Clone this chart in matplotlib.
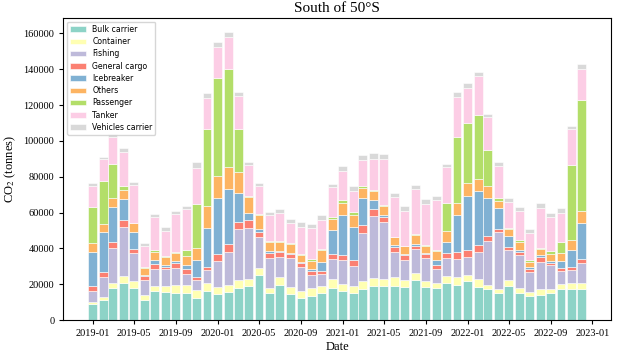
import matplotlib
matplotlib.use('Agg')
import matplotlib.pyplot as plt
import matplotlib.dates as mdates
import numpy as np
import pandas as pd

plt.rcParams['mathtext.fontset'] = 'stix'

# monthly CO2 emissions south of 50°S, by ship type (tonnes)
months = pd.date_range('2019-01-01', periods=48, freq='MS')

bulk_carrier = [8700, 11200, 18000, 20500, 17900, 11000, 16200, 15600, 15300, 14900, 12500, 16200,
                14300, 15600, 18000, 18800, 24900, 14900, 19300, 14500, 12300, 13600, 15300, 17700,
                16000, 15300, 17100, 18800, 18800, 19200, 18600, 22300, 18200, 18000, 20500, 19700,
                21900, 18600, 17100, 14900, 18800, 15300, 13600, 14100, 14900, 17100, 17500, 17100]
container = [1500, 1400, 2600, 4100, 3900, 3000, 3000, 3600, 4000, 4400, 4200, 4300,
             4300, 3700, 4300, 4100, 3900, 3100, 4500, 4100, 3700, 4100, 3700, 5000,
             4300, 3900, 4700, 4500, 4300, 4800, 3700, 4100, 3600, 2600, 3900, 4100,
             3200, 4300, 2400, 2600, 3500, 2600, 2200, 3400, 2200, 3000, 3000, 3400]
fishing = [5800, 11200, 19600, 27500, 15800, 8500, 9100, 9100, 9900, 6400, 5600, 7400,
           14500, 18500, 28500, 28600, 17300, 16400, 11500, 15800, 13600, 7200, 6700, 11500,
           13200, 10900, 26900, 34700, 31400, 14100, 11200, 13200, 13000, 7700, 10000, 10200,
           10200, 14900, 24400, 31600, 16800, 18600, 11000, 15100, 13400, 7400, 7400, 11500]
general_cargo = [3200, 3200, 3300, 3700, 2200, 1900, 2800, 1500, 2400, 2600, 1900, 1900,
                 3700, 4600, 3900, 4100, 3000, 3200, 2800, 2400, 2000, 2600, 1600, 2800,
                 2600, 3400, 4100, 3800, 3000, 2800, 2600, 1700, 1800, 2200, 2800, 3800,
                 3800, 3900, 3000, 1500, 1600, 1300, 1500, 2400, 1500, 1500, 1700, 2200]
icebreaker = [18800, 21900, 19500, 11700, 9100, 900, 2400, 900, 1300, 2600, 9500, 21400,
              31100, 30500, 16500, 3900, 1500, 700, 200, 400, 800, 1000, 5300, 13200,
              22500, 18200, 15500, 5200, 1100, 900, 700, 1100, 600, 3000, 6300, 20800,
              30300, 30100, 21200, 12100, 6400, 1400, 1300, 1100, 1100, 3900, 9500, 19900]
others = [4800, 4700, 5300, 5200, 5000, 3700, 4600, 4300, 4300, 4600, 6500, 12600,
          12500, 12500, 11400, 9300, 8000, 5000, 5000, 5400, 4100, 4600, 6500, 6200,
          6500, 6900, 5500, 5000, 5200, 4300, 4300, 5000, 4100, 4800, 6000, 6900,
          6900, 7100, 6700, 3700, 3700, 4100, 2800, 3300, 3500, 4300, 5700, 6500]
passenger = [20400, 24000, 18900, 2300, 400, 600, 800, 700, 900, 3700, 24500, 42600,
             54500, 54500, 24000, 600, 400, 600, 800, 200, 400, 800, 500, 1300,
             1900, 1500, 1200, 400, 400, 400, 400, 600, 600, 900, 16000, 36800,
             33600, 35500, 20400, 1500, 700, 1300, 900, 900, 1700, 6100, 41700, 62200]
tanker = [11800, 12400, 14900, 18900, 21000, 11500, 18600, 14000, 21000, 22600, 20300, 17800,
          17600, 18200, 18400, 16900, 16000, 14700, 15600, 11300, 15200, 17300, 16400, 16500,
          16000, 12100, 14500, 17400, 25600, 22100, 19300, 24900, 23000, 27800, 19700, 22100,
          19900, 21800, 17900, 18000, 14500, 16200, 15400, 22000, 19500, 16600, 20100, 17100]
vehicles_carrier = [1300, 1300, 1700, 2400, 1700, 1700, 1800, 2200, 1700, 1800, 3200, 2700,
                    2600, 2600, 2200, 1900, 1400, 1700, 2100, 2300, 2600, 2400, 2400, 1900,
                    2900, 2600, 2400, 3200, 2800, 2500, 2600, 2600, 2400, 2200, 1800, 2800,
                    2300, 2400, 1800, 2300, 2300, 2300, 2300, 2800, 2100, 2400, 1700, 2800]

ship_types = ['Bulk carrier', 'Container', 'Fishing', 'General cargo', 'Icebreaker',
              'Others', 'Passenger', 'Tanker', 'Vehicles carrier']
series = [bulk_carrier, container, fishing, general_cargo, icebreaker,
          others, passenger, tanker, vehicles_carrier]

colors = plt.cm.Set3.colors[:9]

fig = plt.figure(figsize=(6.4, 3.56), dpi=100)
ax = fig.add_axes([0.099, 0.101, 0.856, 0.849])

x = mdates.date2num(months)
bottom = np.zeros(len(x))
for name, vals, col in zip(ship_types, series, colors):
    vals = np.array(vals, dtype=float)
    ax.bar(x, vals, width=26, bottom=bottom, color=col, edgecolor='white',
           linewidth=0.4, label=name)
    bottom += vals

ax.xaxis_date()
ax.xaxis.set_major_locator(mdates.MonthLocator(bymonth=[1, 5, 9]))
ax.xaxis.set_major_formatter(mdates.DateFormatter('%Y-%m'))

serif = 'Liberation Serif'
for lab in ax.get_xticklabels() + ax.get_yticklabels():
    lab.set_fontname(serif)
    lab.set_fontsize(7.5)
ax.tick_params(length=3, width=0.8)

ax.set_title('South of 50°S', fontname=serif, fontsize=11, pad=4)
ax.set_xlabel('Date', fontname=serif, fontsize=9, labelpad=2)
ax.set_ylabel('CO$_2$ (tonnes)', fontname=serif, fontsize=9)

ax.legend(loc='upper left', fontsize=5.6, labelspacing=0.42)

fig.savefig('out.png', dpi=100)
